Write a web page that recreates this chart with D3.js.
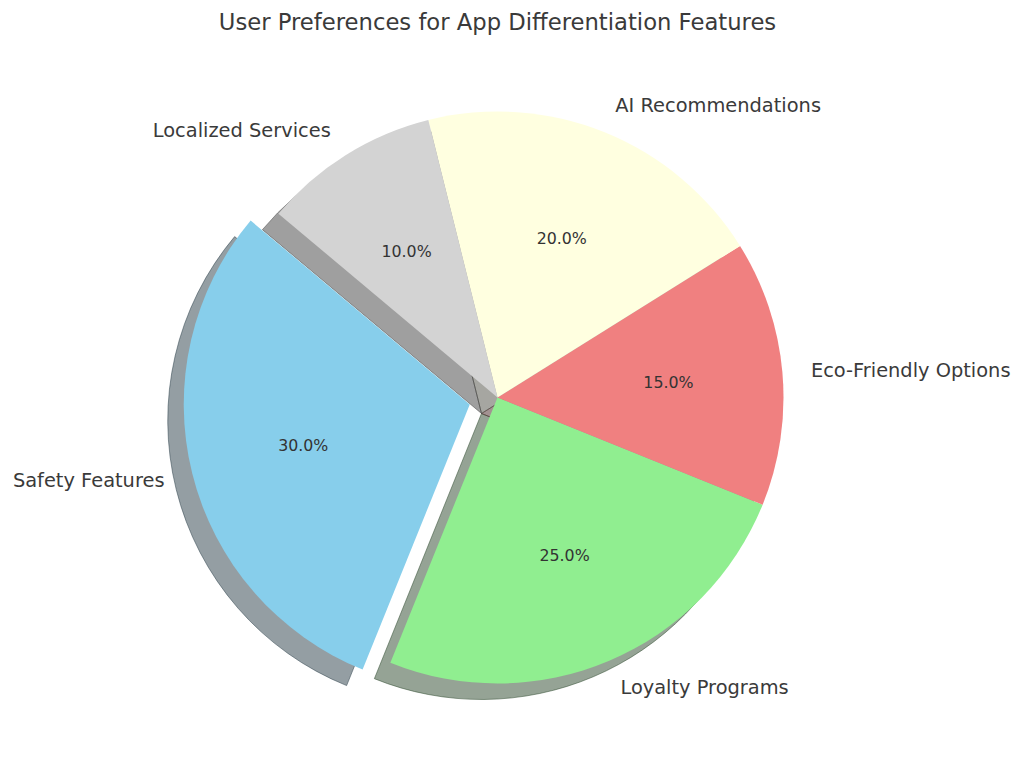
<!DOCTYPE html>
<html>
<head>
<meta charset="utf-8">
<script src="https://cdn.jsdelivr.net/npm/d3@7"></script>
<style>
  html, body { margin: 0; padding: 0; background: #fff; }
  svg { display: block; font-family: "DejaVu Sans", sans-serif; }
</style>
</head>
<body>
<svg id="chart" width="1024" height="768"></svg>
<script>
const categories = ["Safety Features", "Loyalty Programs", "Eco-Friendly Options", "AI Recommendations", "Localized Services"];
const values = [30, 25, 15, 20, 10];
const colors = ["#87CEEB", "#90EE90", "#F08080", "#FFFFE0", "#D3D3D3"];
const explode = [0.1, 0, 0, 0, 0];
const title = "User Preferences for App Differentiation Features";

const W = 1024, H = 768;
const cx = 497.5, cy = 397.5, R = 286;
const startDeg = 140;
const shadowOffset = [-16, 16];

const svg = d3.select("#chart");
const rScale = d3.scaleLinear().domain([0, 1]).range([0, R]);

const start = Math.PI / 2 - startDeg * Math.PI / 180;
const pie = d3.pie().sort(null).value(d => d).startAngle(start).endAngle(start - 2 * Math.PI);
const arcs = pie(values);
const arc = d3.arc().innerRadius(0).outerRadius(rScale(1));

function midAngle(a) { return (a.startAngle + a.endAngle) / 2; } // d3 convention
function offsetOf(a, i) {
  const m = midAngle(a);
  const d = rScale(explode[i]);
  return [d * Math.sin(m), -d * Math.cos(m)];
}

const g = svg.append("g").attr("transform", `translate(${cx},${cy})`);

// shadows
arcs.forEach((a, i) => {
  const [ox, oy] = offsetOf(a, i);
  const c = d3.rgb(colors[i]);
  const sc = d3.rgb(c.r * 0.3, c.g * 0.3, c.b * 0.3);
  g.append("path")
    .attr("d", arc(a))
    .attr("transform", `translate(${ox + shadowOffset[0]},${oy + shadowOffset[1]})`)
    .attr("fill", sc.formatRgb())
    .attr("fill-opacity", 0.5)
    .attr("stroke", sc.formatRgb())
    .attr("stroke-opacity", 0.5)
    .attr("stroke-width", 1);
});

// wedges
arcs.forEach((a, i) => {
  const [ox, oy] = offsetOf(a, i);
  g.append("path")
    .attr("d", arc(a))
    .attr("transform", `translate(${ox},${oy})`)
    .attr("fill", colors[i]);
});

// labels and percentages
const total = d3.sum(values);
arcs.forEach((a, i) => {
  const [ox, oy] = offsetOf(a, i);
  const m = midAngle(a);
  const sx = Math.sin(m), sy = -Math.cos(m);
  const lx = ox + rScale(1.1) * sx, ly = oy + rScale(1.1) * sy;
  g.append("text")
    .attr("x", lx).attr("y", ly)
    .attr("text-anchor", sx > 0 ? "start" : "end")
    .attr("dominant-baseline", "central")
    .attr("font-size", 19.4)
    .attr("fill", "#3a3a3a")
    .text(categories[i]);
  const px = ox + rScale(0.6) * sx, py = oy + rScale(0.6) * sy;
  g.append("text")
    .attr("x", px).attr("y", py)
    .attr("text-anchor", "middle")
    .attr("dominant-baseline", "central")
    .attr("font-size", 15.8)
    .attr("fill", "#333333")
    .text((values[i] / total * 100).toFixed(1) + "%");
});

svg.append("text")
  .attr("x", cx).attr("y", 22)
  .attr("text-anchor", "middle")
  .attr("dominant-baseline", "central")
  .attr("font-size", 22.7)
  .attr("fill", "#3a3a3a")
  .text(title);
</script>
</body>
</html>
